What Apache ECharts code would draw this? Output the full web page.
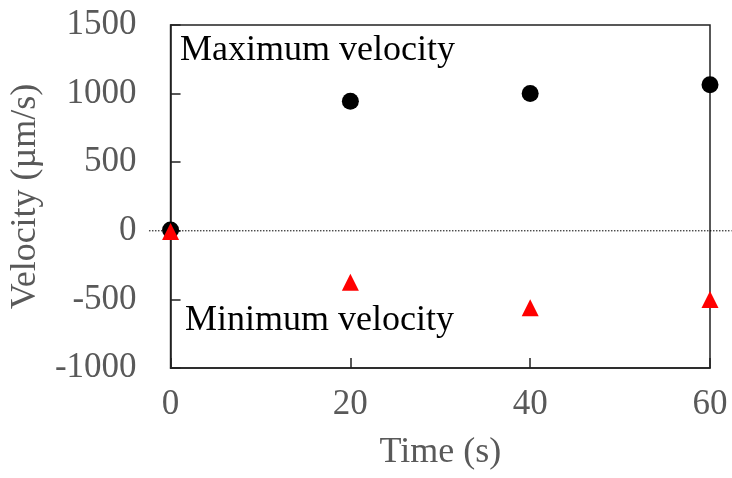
<!DOCTYPE html>
<html>
<head>
<meta charset="utf-8">
<script src="https://cdn.jsdelivr.net/npm/echarts@6/dist/echarts.min.js"></script>
<style>
  html, body { margin: 0; padding: 0; background: #fff; }
  #chart { width: 732px; height: 478px; }
</style>
</head>
<body>
<div id="chart"></div>
<script>
// time points (s)
var times = [0, 20, 40, 60];
// velocities (µm/s)
var maxVelocity = [5, 945, 1000, 1065];
var minVelocity = [-5, -375, -560, -500];
// zero reference line span (in x units, runs past the frame)
var zeroLineFrom = -2.4;
var zeroLineTo = 62.4;

function pairs(xs, ys) {
    return xs.map(function (x, i) { return [x, ys[i]]; });
}

var font = '"Liberation Serif", "Times New Roman", serif';
var chart = echarts.init(document.getElementById('chart'));

chart.setOption({
    animation: false,
    grid: {
        left: 169, right: 22, top: 25, bottom: 110,
        show: true, borderColor: '#222', borderWidth: 1.5
    },
    xAxis: {
        type: 'value', min: 0, max: 60, interval: 20,
        name: 'Time (s)', nameLocation: 'middle', nameGap: 67,
        nameTextStyle: {fontFamily: font, fontSize: 36, color: '#595959'},
        axisLine: {onZero: false, lineStyle: {color: '#222', width: 1.5}},
        axisTick: {inside: true, length: 10, lineStyle: {color: '#222', width: 1.5}},
        axisLabel: {fontFamily: font, fontSize: 35, color: '#595959', margin: 19},
        splitLine: {show: false}
    },
    yAxis: {
        type: 'value', min: -1000, max: 1500, interval: 500,
        name: 'Velocity (µm/s)', nameLocation: 'middle', nameGap: 126, nameRotate: 90,
        nameTextStyle: {fontFamily: font, fontSize: 36, color: '#595959'},
        axisLine: {onZero: false, lineStyle: {color: '#222', width: 1.5}},
        axisTick: {inside: true, length: 10, lineStyle: {color: '#222', width: 1.5}},
        axisLabel: {fontFamily: font, fontSize: 35, color: '#595959', margin: 34,
                    formatter: function (v) { return String(v); }},
        splitLine: {show: false}
    },
    series: [
        {
            name: 'Maximum velocity', type: 'scatter', clip: false,
            symbol: 'circle', symbolSize: 17,
            itemStyle: {color: '#000', opacity: 1},
            data: pairs(times, maxVelocity)
        },
        {
            name: 'Minimum velocity', type: 'scatter', clip: false,
            symbol: 'triangle', symbolSize: 17,
            itemStyle: {color: '#ff0000', opacity: 1},
            data: pairs(times, minVelocity)
        }
    ]
});

// dotted zero line, placed through the axis scales
var p0 = chart.convertToPixel({gridIndex: 0}, [zeroLineFrom, 0]);
var p1 = chart.convertToPixel({gridIndex: 0}, [zeroLineTo, 0]);
chart.setOption({
    graphic: [
        {type: 'line', z: 1, silent: true,
         shape: {x1: p0[0], y1: p0[1], x2: p1[0], y2: p1[1]},
         style: {stroke: '#000', lineWidth: 1, lineDash: [1.5, 1.5]}},
        {type: 'text', left: 180, top: 33,
         style: {text: 'Maximum velocity', font: '36px ' + font, fill: '#000'}},
        {type: 'text', left: 185, top: 303,
         style: {text: 'Minimum velocity', font: '36px ' + font, fill: '#000'}}
    ]
});
</script>
</body>
</html>
